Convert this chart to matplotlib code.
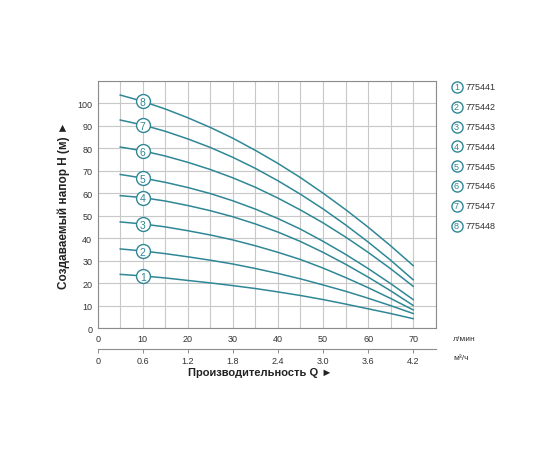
import numpy as np
import matplotlib
matplotlib.use("Agg")
import matplotlib.pyplot as plt

plt.rcParams['font.family'] = ['Liberation Sans', 'DejaVu Sans']

# flow in l/min, head in m
flow = [5, 10, 15, 20, 25, 30, 35, 40, 45, 50, 55, 60, 65, 70]
head_1 = [24.0, 23.3, 22.4, 21.3, 20.2, 19.0, 17.7, 16.2, 14.6, 12.8, 10.8, 8.7, 6.6, 4.3]
head_2 = [35.3, 34.4, 33.2, 31.8, 30.3, 28.6, 26.6, 24.4, 22.0, 19.3, 16.5, 13.4, 10.1, 6.6]
head_3 = [47.3, 46.4, 45.1, 43.4, 41.5, 39.3, 36.7, 33.8, 30.6, 26.8, 22.6, 18.1, 13.3, 8.2]
head_4 = [59.0, 58.1, 56.6, 54.6, 52.3, 49.6, 46.4, 42.8, 38.6, 33.8, 28.5, 22.8, 16.7, 10.2]
head_5 = [68.4, 66.8, 64.9, 62.6, 59.9, 56.7, 53.0, 48.8, 44.1, 38.7, 32.9, 26.6, 19.9, 12.8]
head_6 = [80.6, 78.9, 76.6, 73.8, 70.6, 66.9, 62.7, 57.9, 52.6, 46.9, 40.6, 33.8, 26.5, 18.7]
head_7 = [92.6, 90.4, 87.6, 84.2, 80.4, 76.0, 71.1, 65.6, 59.6, 53.1, 46.0, 38.4, 30.3, 21.6]
head_8 = [103.7, 100.9, 97.5, 93.6, 89.3, 84.5, 79.1, 73.3, 67.0, 60.1, 52.8, 45.0, 36.7, 27.9]
curves = [head_1, head_2, head_3, head_4, head_5, head_6, head_7, head_8]
models = ["775441", "775442", "775443", "775444", "775445", "775446", "775447", "775448"]

x_ticks = [0, 10, 20, 30, 40, 50, 60, 70]
m3h_ticks = ["0", "0.6", "1.2", "1.8", "2.4", "3.0", "3.6", "4.2"]
y_ticks = [0, 10, 20, 30, 40, 50, 60, 70, 80, 90, 100]

teal = "#2f8796"
grey_txt = "#333333"

fig = plt.figure(figsize=(5.6, 4.6), dpi=100)
ax = fig.add_axes([0.1745, 0.284, 0.6035, 0.538])

for i, h in enumerate(curves):
    ax.plot(flow, h, color=teal, lw=1.1, zorder=3, solid_joinstyle="round")
    # circled number sits at 10 l/min
    ax.plot(flow[1], h[1], "o", ms=10, mfc="white", mec=teal, mew=1.0, zorder=4)
    ax.text(flow[1], h[1] - 0.3, str(i + 1), color=teal, fontsize=7.5, ha="center",
            va="center", zorder=5)

ax.set_xlim(0, 75)
ax.set_ylim(0, 110)
ax.set_xticks(np.arange(0, 76, 5))
ax.set_yticks(np.arange(0, 111, 10))
ax.grid(True, color="#c8c8c8", lw=0.8)
ax.set_xticklabels([str(v) if v in x_ticks else "" for v in np.arange(0, 76, 5)])
ax.set_yticklabels([str(v) if v in y_ticks else "" for v in np.arange(0, 111, 10)])
ax.tick_params(length=0, labelsize=6.5, labelcolor=grey_txt, pad=4)
for s in ax.spines.values():
    s.set_color("#8c8c8c")
    s.set_linewidth(0.8)

ax.set_ylabel("Создаваемый напор H (м) ►", fontsize=8.5, fontweight="bold",
              color="#222222", labelpad=5)

# second scale in m3/h
sec = ax.secondary_xaxis(-0.084, functions=(lambda q: q * 0.06, lambda q: q / 0.06))
sec.set_xticks([float(t) for t in m3h_ticks])
sec.set_xticklabels(m3h_ticks)
sec.tick_params(direction="out", length=3, width=0.7, color="#8c8c8c",
                labelsize=6.5, labelcolor=grey_txt, pad=2)
sec.spines["bottom"].set_color("#8c8c8c")
sec.spines["bottom"].set_linewidth(0.8)

fig.text(453 / 560, 1 - 340 / 460, "л/мин", fontsize=6, color=grey_txt, va="center")
fig.text(453 / 560, 1 - 359 / 460, "м³/ч", fontsize=6, color=grey_txt, va="center")
fig.text(260 / 560, 1 - 373 / 460, "Производительность Q ►", fontsize=8,
         fontweight="bold", color="#222222", ha="center", va="center")

# legend with circled numbers
for i, name in enumerate(models):
    yy = 1 - (88 + i * 19.8) / 460
    fig.lines.append(plt.Line2D([456.5 / 560], [yy], marker="o", ms=8, mfc="white",
                                mec=teal, mew=1.0, transform=fig.transFigure))
    fig.text(456.5 / 560, yy, str(i + 1), color=teal, fontsize=6.5, ha="center",
             va="center")
    fig.text(466 / 560, yy, name, color=grey_txt, fontsize=6.5, va="center")

fig.savefig("out.png", dpi=100)
